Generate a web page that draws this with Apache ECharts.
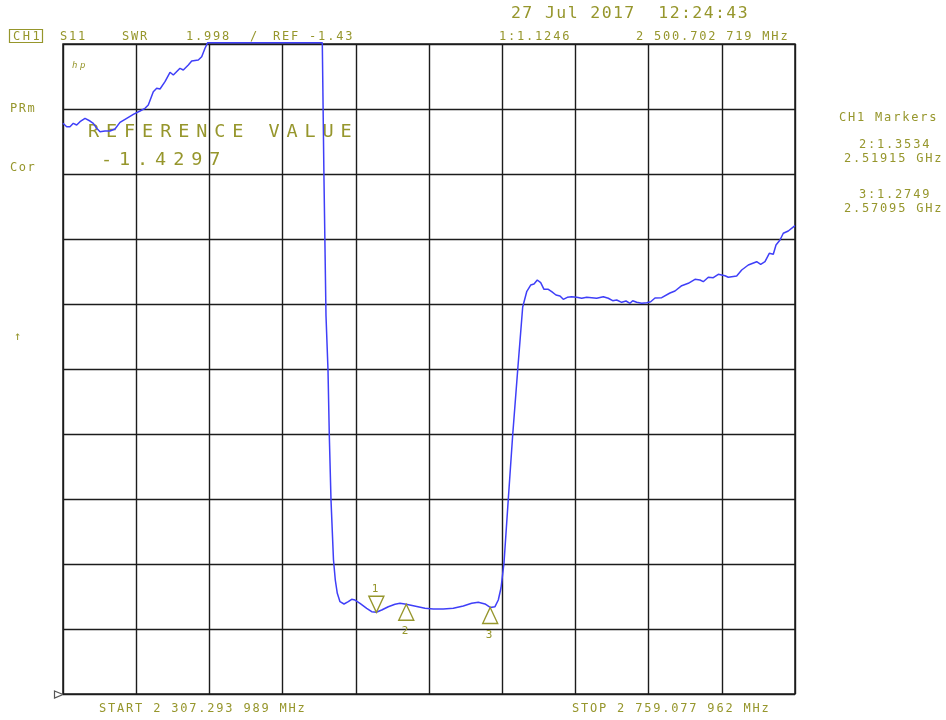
<!DOCTYPE html>
<html>
<head>
<meta charset="utf-8">
<script src="https://cdn.jsdelivr.net/npm/echarts@6/dist/echarts.min.js"></script>
<style>
html,body{margin:0;padding:0;background:#fff;}
#chart{width:946px;height:720px;}
</style>
</head>
<body>
<div id="chart"></div>
<script>
const startMHz = 2307.293989;
const stopMHz = 2759.077962;
const freqMHz = [
  2307.29, 2309.58, 2311.61, 2313.65, 2315.75, 2317.79, 2320.88, 2323.96, 2326.00, 2328.09,
  2330.13, 2333.22, 2336.30, 2339.39, 2342.47, 2346.61, 2350.69, 2354.82, 2357.91, 2359.94,
  2363.03, 2365.13, 2367.17, 2370.25, 2373.34, 2375.38, 2379.51, 2381.55, 2384.63, 2386.73,
  2390.80, 2392.90, 2394.94, 2396.60,
  2410.37, 2428.88, 2447.39, 2467.33,
  2468.38, 2469.62, 2470.85, 2471.65, 2472.70, 2474.24, 2475.35, 2476.59, 2478.25, 2480.72,
  2483.37, 2485.47, 2487.51, 2490.60, 2494.73, 2497.82, 2500.70, 2503.99, 2508.06, 2512.20,
  2515.28, 2519.15, 2523.49, 2530.71, 2535.84, 2542.01, 2548.18, 2554.35, 2559.53, 2563.61,
  2567.74, 2570.95, 2573.92, 2575.95, 2577.62, 2579.47, 2582.13, 2584.84, 2587.93, 2591.01,
  2593.48, 2595.95, 2597.99, 2600.02, 2602.12, 2604.16, 2606.81, 2608.91, 2611.56, 2614.03,
  2616.07, 2618.54, 2621.26, 2624.34, 2627.43, 2630.51, 2633.60, 2636.68, 2640.76, 2643.84,
  2646.56, 2649.03, 2652.11, 2654.77, 2657.24, 2658.90, 2661.37, 2664.46, 2667.54, 2670.01,
  2672.67, 2676.80, 2681.92, 2685.01, 2689.15, 2693.22, 2697.35, 2700.44, 2702.48, 2705.56,
  2708.65, 2711.74, 2715.87, 2717.91, 2723.09, 2726.18, 2730.25, 2735.43, 2737.90, 2740.56,
  2743.21, 2745.68, 2747.35, 2749.82, 2751.85, 2754.94, 2759.08
];
// trace level in screen divisions above the bottom graticule line
const traceLevel = [
  8.78, 8.728, 8.728, 8.78, 8.754, 8.805, 8.857, 8.815, 8.78, 8.703,
  8.651, 8.662, 8.662, 8.692, 8.795, 8.857, 8.918, 8.969, 9.011, 9.062,
  9.266, 9.318, 9.308, 9.42, 9.565, 9.523, 9.626, 9.60, 9.677, 9.738,
  9.754, 9.805, 9.934, 10.02,
  10.02, 10.02, 10.02, 10.02,
  7.908, 5.815, 4.985, 3.985, 2.985, 2.062, 1.754, 1.549, 1.42, 1.385,
  1.42, 1.457, 1.446, 1.395, 1.318, 1.266, 1.257, 1.292, 1.343, 1.38,
  1.395, 1.38, 1.358, 1.318, 1.308, 1.308, 1.318, 1.354, 1.395, 1.411,
  1.385, 1.331, 1.343, 1.446, 1.631, 2.015, 3.0, 3.985, 4.985, 5.954,
  6.189, 6.292, 6.308, 6.369, 6.328, 6.226, 6.226, 6.189, 6.138, 6.123,
  6.072, 6.103, 6.112, 6.103, 6.088, 6.103, 6.097, 6.088, 6.112, 6.088,
  6.051, 6.062, 6.026, 6.046, 6.011, 6.051, 6.026, 6.011, 6.02, 6.035,
  6.092, 6.097, 6.169, 6.2, 6.282, 6.318, 6.38, 6.369, 6.343, 6.411,
  6.405, 6.457, 6.435, 6.411, 6.431, 6.523, 6.6, 6.651, 6.611, 6.651,
  6.78, 6.765, 6.908, 6.985, 7.088, 7.123, 7.205
];
const markerNames = ['1', '2', '3'];
const markerFreqMHz = [2500.702719, 2519.15, 2570.95];
const markerLevel = [1.257, 1.38, 1.331];
const markerPointsDown = [true, false, false];
const gridDivisions = 10;

// ---- text letter spacing (HP plotter font look) ----
const SPACING = {};
(function () {
  const P = CanvasRenderingContext2D.prototype;
  const orig = P.fillText;
  P.fillText = function (t, x, y, w) {
    const s = SPACING[t];
    if (s && ('letterSpacing' in this)) {
      const prev = this.letterSpacing;
      this.letterSpacing = s + 'px';
      if (w === undefined) orig.call(this, t, x, y); else orig.call(this, t, x, y, w);
      this.letterSpacing = prev;
      return;
    }
    if (w === undefined) return orig.call(this, t, x, y);
    return orig.call(this, t, x, y, w);
  };
})();

const OLIVE = '#96962c';
const MONO = '"DejaVu Sans Mono", "Liberation Mono", monospace';
function txt(str, x, y, size, spacing, extra) {
  if (spacing) SPACING[str] = spacing;
  return Object.assign({
    type: 'text', x: x, y: y, silent: true,
    style: {
      text: str, fill: OLIVE, font: size + 'px ' + MONO,
      align: 'left', verticalAlign: 'middle'
    }
  }, extra || {});
}

const chart = echarts.init(document.getElementById('chart'), null, { renderer: 'canvas' });

const graphics = [
  { type: 'rect', silent: true, shape: { x: 9.5, y: 29.5, width: 33, height: 13 },
    style: { fill: 'none', stroke: OLIVE, lineWidth: 1.2 } },
  txt('CH1', 13, 36.5, 12, 2.5),
  txt('S11', 60, 36.5, 12, 1.8),
  txt('SWR', 122, 36.5, 12, 1.8),
  txt('1.998', 186, 36.5, 12, 1.8),
  txt('/', 250, 36.5, 12, 1.8),
  txt('REF -1.43', 273, 36.5, 12, 1.8),
  txt('1:1.1246', 499, 36.5, 12, 1.8),
  txt('2 500.702 719 MHz', 636, 36.5, 12, 1.8),
  txt('27 Jul 2017  12:24:43', 511, 14, 16.5, 1.4),
  txt('CH1 Markers', 839, 118, 12, 1.8),
  txt('2:1.3534', 859, 145, 12, 1.8),
  txt('2.51915 GHz', 844, 158.5, 12, 1.8),
  txt('3:1.2749', 859, 195, 12, 1.8),
  txt('2.57095 GHz', 844, 208.5, 12, 1.8),
  txt('PRm', 10, 109, 12, 1.5),
  txt('Cor', 10, 167.5, 12, 1.5),
  txt('\u2191', 14, 337, 12, 0),
  { type: 'text', x: 72, y: 66, silent: true,
    style: { text: 'hp', fill: OLIVE, font: 'italic 9px ' + MONO, align: 'left', verticalAlign: 'middle' } },
  txt('REFERENCE VALUE', 88, 132.5, 18.5, 6.9),
  txt('-1.4297', 101, 160, 18.5, 6.9),
  txt('START 2 307.293 989 MHz', 99, 709, 12, 1.8),
  txt('STOP 2 759.077 962 MHz', 572, 709, 12, 1.8),
  { type: 'polygon', silent: true,
    shape: { points: [[54.5, 691], [63, 694.5], [54.5, 698]] },
    style: { fill: 'none', stroke: '#555', lineWidth: 1.2 } }
];

const traceData = freqMHz.map((f, i) => [f, traceLevel[i]]);
const markData = markerNames.map((n, i) => ({
  name: n,
  coord: [markerFreqMHz[i], markerLevel[i]],
  symbol: markerPointsDown[i] ? 'path://M0,0L10,0L5,10Z' : 'path://M5,0L10,10L0,10Z',
  symbolSize: [15, 16],
  symbolOffset: [0, markerPointsDown[i] ? -8 : 8],
  label: {
    show: true, formatter: n, position: markerPointsDown[i] ? 'top' : 'bottom',
    distance: markerPointsDown[i] ? 1 : 5, color: OLIVE, fontSize: 11, fontFamily: MONO
  }
}));

chart.setOption({
  animation: false,
  backgroundColor: '#ffffff',
  grid: { left: 63, top: 44, width: 732, height: 650, show: true,
          borderColor: '#1c1c1c', borderWidth: 1.5, backgroundColor: 'transparent' },
  xAxis: [
    { type: 'value', min: startMHz, max: stopMHz, show: false },
    { type: 'value', min: 0, max: gridDivisions, interval: 1, position: 'bottom',
      axisLine: { show: false }, axisTick: { show: false }, axisLabel: { show: false },
      splitLine: { show: true, lineStyle: { color: '#1c1c1c', width: 1.4 } } }
  ],
  yAxis: [
    { type: 'value', min: 0, max: gridDivisions, interval: 1,
      axisLine: { show: false }, axisTick: { show: false }, axisLabel: { show: false },
      splitLine: { show: true, lineStyle: { color: '#1c1c1c', width: 1.4 } } }
  ],
  series: [{
    type: 'line',
    xAxisIndex: 0, yAxisIndex: 0,
    data: traceData,
    showSymbol: false, symbol: 'none',
    clip: false, silent: true,
    lineStyle: { color: '#3f3ff8', width: 1.5 },
    markPoint: {
      silent: true,
      itemStyle: { color: 'rgba(0,0,0,0)', borderColor: OLIVE, borderWidth: 1.4 },
      data: markData
    }
  }],
  graphic: graphics
});
</script>
</body>
</html>
